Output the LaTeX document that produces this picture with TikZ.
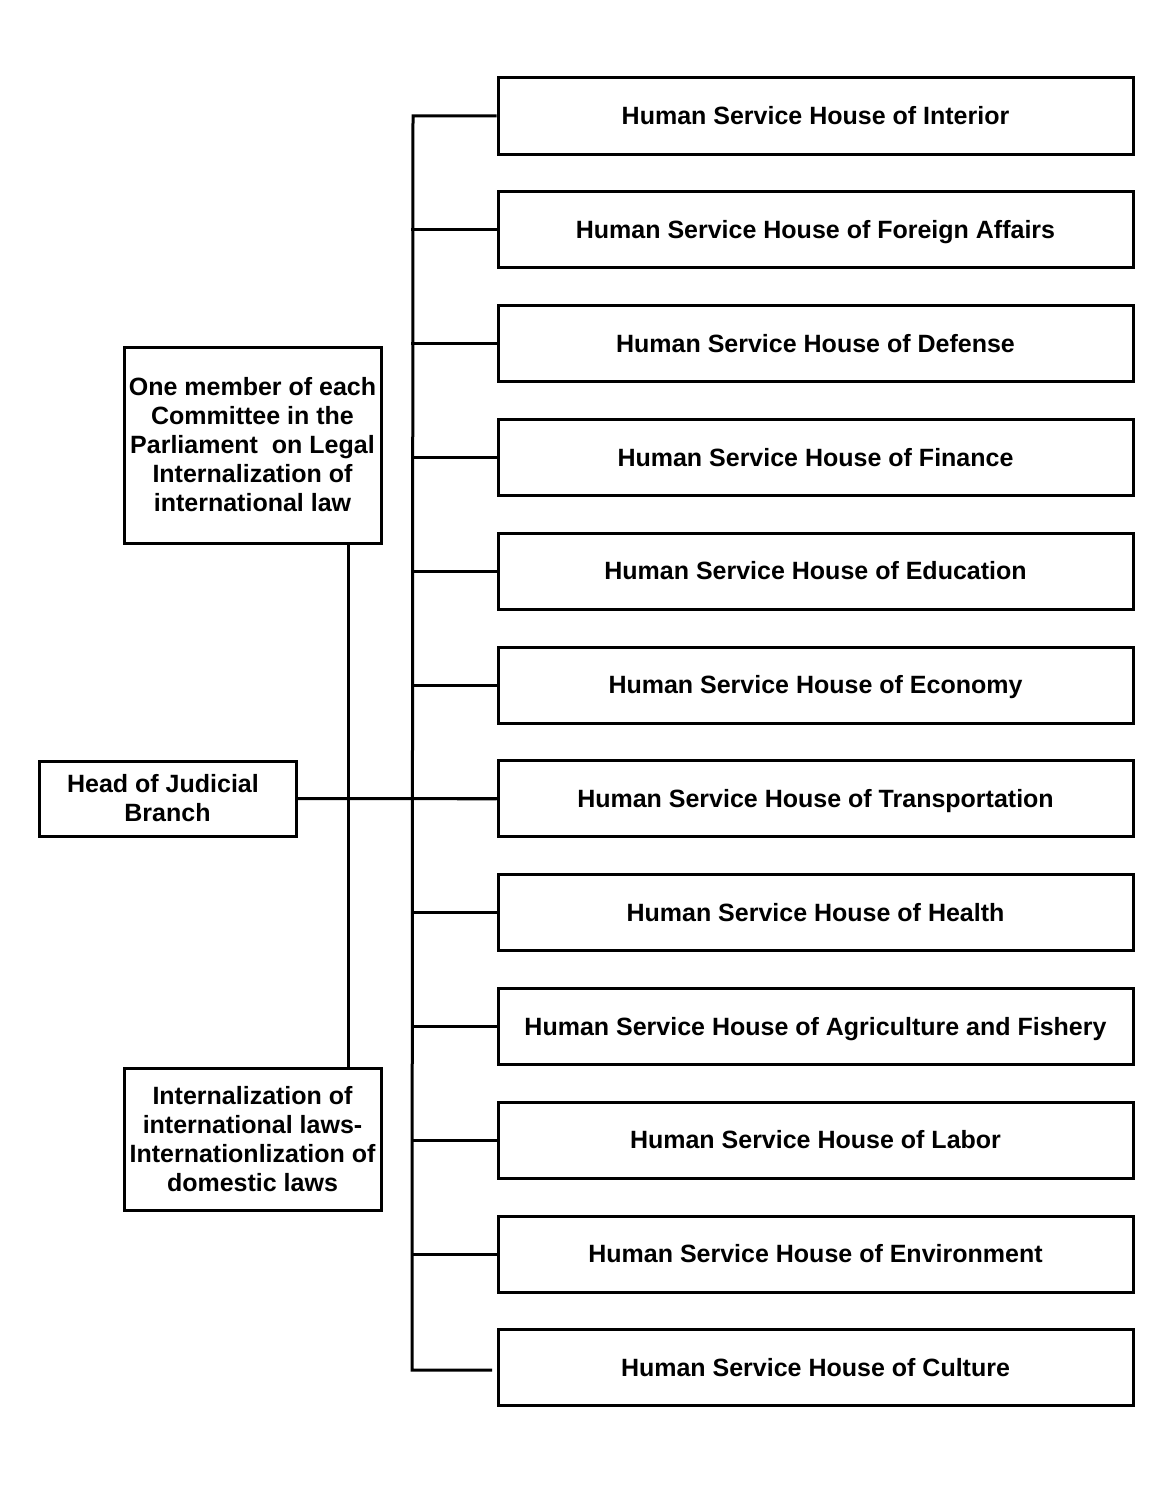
\documentclass[tikz,border=0pt]{standalone}
\usepackage{fontspec}
\setmainfont{Liberation Sans}
\begin{document}
\begin{tikzpicture}[x=1pt,y=-1pt,
  box/.style={draw,line width=3pt,minimum width=635pt,minimum height=76pt,inner sep=0pt,text height=18.3pt,text depth=1pt,font=\fontsize{25}{29}\selectfont\bfseries},
  lbox/.style={draw,line width=3pt,inner sep=0pt,align=center,font=\fontsize{25}{29}\selectfont\bfseries},
  ln/.style={line width=3pt}]
\useasboundingbox (0,0) rectangle (1172,1485);
\foreach \t [count=\i] in {Interior,Foreign Affairs,Defense,Finance,Education,Economy,Transportation,Health,Agriculture and Fishery,Labor,Environment,Culture}{
  \node[box] (b\i) at (815.5,{116+113.8*(\i-1)}) {Human Service House of \t};
}
\node[lbox,minimum width=257pt,minimum height=196pt] (top) at (252.5,445) {One member of each\\Committee in the\\Parliament\ \ on Legal\\Internalization of\\international law};
\node[lbox,minimum width=257pt,minimum height=142pt] (bot) at (252.5,1139) {Internalization of\\international laws-\\Internationlization of\\domestic laws};
\node[lbox,minimum width=257pt,minimum height=75pt] (head) at (167.5,798.5) {Head of Judicial\hspace*{9pt}\\Branch};
% bus
\coordinate (bt) at (413,116);
\coordinate (bb) at (412,1370);
\draw[ln] (b1.west) -- (bt) -- (bb) -- (492,1370);
\foreach \i in {2,...,11}{
  \draw[ln] (b\i.west) -- (411,0 |- b\i.west);
}
\draw[ln] (head.east) -- (b7.west);
\draw[ln] (348,0 |- top.south) -- (348,0 |- bot.north);
\end{tikzpicture}
\end{document}
